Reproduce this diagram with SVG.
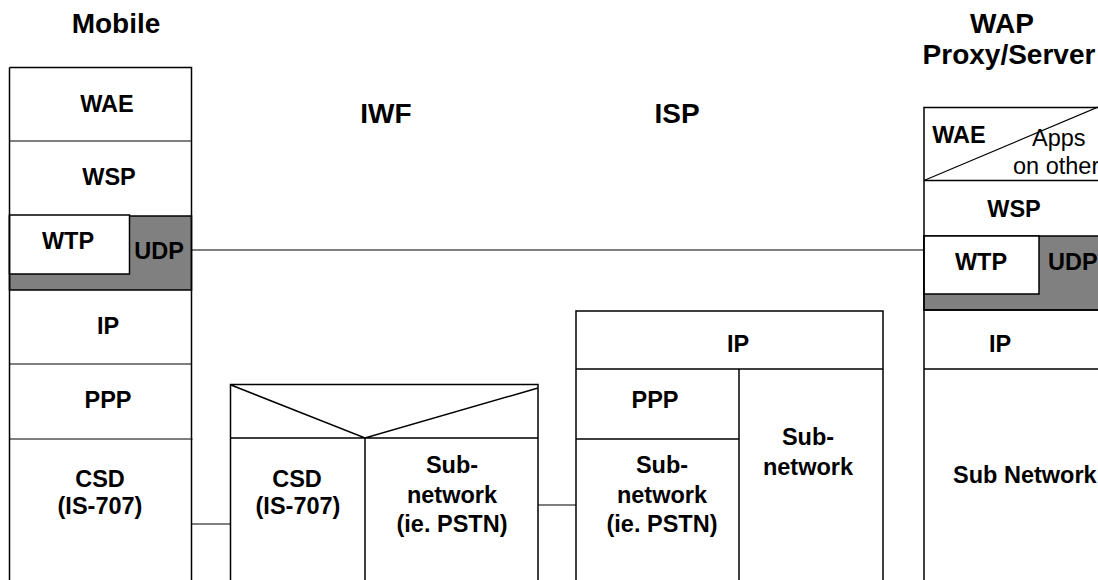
<svg xmlns="http://www.w3.org/2000/svg" width="1098" height="580" viewBox="0 0 1098 580">
<style>
.b{fill:none;stroke:#000;stroke-width:1.5}
.t{stroke:#000;stroke-width:1.2;fill:none}
.g{fill:#808080;stroke:#000;stroke-width:1.5}
.w{fill:#fff;stroke:#000;stroke-width:1.5}
.l{font-family:"Liberation Sans",Arial,sans-serif;font-weight:bold;font-size:23.5px;text-anchor:middle;fill:#000}
.h{font-family:"Liberation Sans",Arial,sans-serif;font-weight:bold;font-size:28px;text-anchor:middle;fill:#000}
.r{font-family:"Liberation Sans",Arial,sans-serif;font-size:23.5px;fill:#000}
</style>
<rect width="1098" height="580" fill="#fff"/>
<g id="headers">
<text class="h" x="116" y="33">Mobile</text>
<text class="h" x="386" y="123">IWF</text>
<text class="h" x="677" y="123">ISP</text>
<text class="h" x="1002" y="33">WAP</text>
<text class="h" x="1009" y="64">Proxy/Server</text>
</g>
<g id="mobile">
<rect class="g" x="9.5" y="216" width="182" height="74"/>
<rect class="w" x="9.5" y="215" width="120" height="59"/>
<path class="b" d="M9.5 67.5H191.5V585M9.5 67.5V585"/>
<path class="t" d="M9.5 141H191.5M9.5 364H191.5M9.5 439H192.5"/>
<text class="l" x="107" y="112">WAE</text>
<text class="l" x="109" y="185">WSP</text>
<text class="l" x="68" y="249">WTP</text>
<text class="l" x="159" y="259">UDP</text>
<text class="l" x="108" y="334">IP</text>
<text class="l" x="108" y="408">PPP</text>
<text class="l" x="100" y="487">CSD</text>
<text class="l" x="100" y="514">(IS-707)</text>
</g>
<g id="iwf">
<path class="b" d="M230.5 585V384.5H538V585M230.5 438H538M365 438V585M231 385L365 438L538 388"/>
<text class="l" x="297" y="487">CSD</text>
<text class="l" x="298" y="514">(IS-707)</text>
<text class="l" x="452" y="473">Sub-</text>
<text class="l" x="452" y="503">network</text>
<text class="l" x="452" y="532">(ie. PSTN)</text>
</g>
<g id="isp">
<path class="b" d="M576 585V311H883V585M576 369H883M739 369V585M576 439H739"/>
<text class="l" x="738" y="352">IP</text>
<text class="l" x="655" y="408">PPP</text>
<text class="l" x="662" y="473">Sub-</text>
<text class="l" x="662" y="503">network</text>
<text class="l" x="662" y="532">(ie. PSTN)</text>
<text class="l" x="808" y="445">Sub-</text>
<text class="l" x="808" y="475">network</text>
</g>
<g id="wap">
<rect class="g" x="924" y="236" width="180" height="74"/>
<rect class="w" x="924" y="236" width="115" height="58"/>
<path class="b" d="M924 580V107.5H1100M924 180.5H1100M924 310H1100M924 369H1100"/>
<path class="t" d="M924 180.5L1098 107"/>
<text class="l" x="959" y="143">WAE</text>
<text class="r" x="1032" y="146">Apps</text>
<text class="r" x="1013" y="174">on other</text>
<text class="l" x="1014" y="217">WSP</text>
<text class="l" x="981" y="270">WTP</text>
<text class="l" x="1048" y="270" style="text-anchor:start">UDP</text>
<text class="l" x="1000" y="352">IP</text>
<text class="l" x="953" y="483" style="text-anchor:start">Sub Network</text>
</g>
<g id="connectors">
<path class="t" d="M191.5 250H924M192 524H230.5M538 505H576"/>
</g>
</svg>
